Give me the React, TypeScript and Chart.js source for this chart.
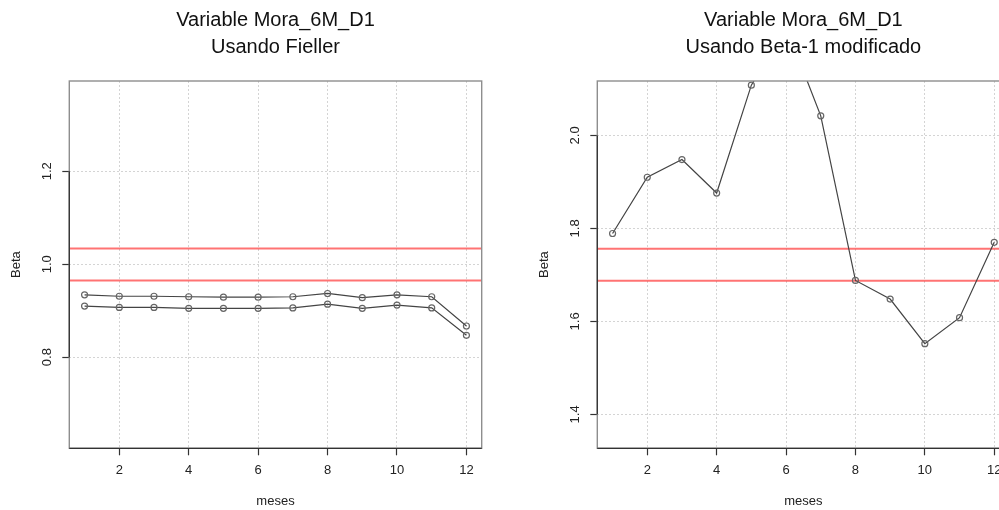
import React, { useEffect, useRef } from "react";
import { Chart, registerables } from "chart.js";

Chart.register(...registerables);

// ---- data ----
const MONTHS = [1, 2, 3, 4, 5, 6, 7, 8, 9, 10, 11, 12];
const FIELLER_UPPER = [0.934, 0.931, 0.931, 0.930, 0.929, 0.929, 0.930, 0.937, 0.928, 0.934, 0.930, 0.867];
const FIELLER_LOWER = [0.910, 0.907, 0.907, 0.905, 0.905, 0.905, 0.906, 0.914, 0.905, 0.912, 0.906, 0.847];
const FIELLER_LIMITS = [1.034, 0.965];
const BETA1_VALUES = [1.789, 1.910, 1.948, 1.876, 2.108, 2.234, 2.042, 1.688, 1.648, 1.552, 1.608, 1.770];
const BETA1_LIMITS = [1.756, 1.6875];

const X_TICKS = [2, 4, 6, 8, 10, 12];
const X_TICK_LABELS = ["2", "4", "6", "8", "10", "12"];
const X_RANGE = [0.56, 12.44];
const LEFT_Y_TICKS = [0.8, 1.0, 1.2];
const LEFT_Y_LABELS = ["0.8", "1.0", "1.2"];
const LEFT_Y_RANGE = [0.604, 1.394];
const RIGHT_Y_TICKS = [1.4, 1.6, 1.8, 2.0];
const RIGHT_Y_LABELS = ["1.4", "1.6", "1.8", "2.0"];
const RIGHT_Y_RANGE = [1.327, 2.117];

const LEFT_TITLE = ["Variable Mora_6M_D1", "Usando Fieller"];
const RIGHT_TITLE = ["Variable Mora_6M_D1", "Usando Beta-1 modificado"];
const X_LABEL = "meses";
const Y_LABEL = "Beta";

const FONT = "'Liberation Sans', Arial, Helvetica, sans-serif";

const boxPlugin = {
  id: "rBox",
  afterDraw(chart: any) {
    const { ctx, chartArea } = chart;
    const xs = chart.scales.x;
    const ys = chart.scales.y;
    const yt: number[] = chart.options.plugins.rBox.yTicks;
    ctx.save();
    ctx.strokeStyle = "#8e8e8e";
    ctx.lineWidth = 1.4;
    ctx.strokeRect(chartArea.left, chartArea.top, chartArea.right - chartArea.left, chartArea.bottom - chartArea.top);
    ctx.strokeStyle = "#333";
    ctx.lineWidth = 1.3;
    ctx.beginPath();
    ctx.moveTo(chartArea.left, chartArea.bottom);
    ctx.lineTo(chartArea.right, chartArea.bottom);
    ctx.moveTo(chartArea.left, ys.getPixelForValue(yt[0]));
    ctx.lineTo(chartArea.left, ys.getPixelForValue(yt[yt.length - 1]));
    ctx.stroke();
    ctx.restore();
  },
};

function seriesDataset(values: number[]) {
  return {
    data: MONTHS.map((m, i) => ({ x: m, y: values[i] })),
    borderColor: "#444",
    borderWidth: 1.2,
    pointRadius: 3,
    pointBorderColor: "#666",
    pointBorderWidth: 1.2,
    pointBackgroundColor: "rgba(0,0,0,0)",
    fill: false,
    tension: 0,
    order: 1,
  };
}

function limitDataset(v: number) {
  return {
    data: [
      { x: X_RANGE[0], y: v },
      { x: X_RANGE[1], y: v },
    ],
    borderColor: "rgba(255,40,40,0.65)",
    borderWidth: 2,
    pointRadius: 0,
    fill: false,
    order: 2,
  };
}

function makeConfig(opts: {
  series: number[][];
  limits: number[];
  yTicks: number[];
  yLabels: string[];
  yRange: number[];
  title: string[];
  yAxisWidth: number;
  yTitlePad: number;
  padRight: number;
}) {
  const grid = {
    color: "#d4d4d4",
    lineWidth: 1,
    drawTicks: true,
    tickLength: 7,
    tickColor: "#333",
    tickWidth: 1.2,
    tickBorderDash: [],
  };
  const border = { display: false, dash: [2, 2] };
  return {
    type: "line",
    data: {
      datasets: [...opts.series.map(seriesDataset), ...opts.limits.map(limitDataset)],
    },
    options: {
      responsive: false,
      animation: false,
      devicePixelRatio: 1,
      layout: { padding: { left: 0, right: opts.padRight, top: 0, bottom: 0 } },
      scales: {
        x: {
          type: "linear",
          min: X_RANGE[0],
          max: X_RANGE[1],
          afterBuildTicks: (s: any) => {
            s.ticks = X_TICKS.map((v) => ({ value: v }));
          },
          afterFit: (s: any) => {
            s.height = 61.7;
          },
          ticks: {
            autoSkip: false,
            maxRotation: 0,
            padding: 7,
            color: "#222",
            font: { family: FONT, size: 13 },
            callback: (v: number) => {
              const i = X_TICKS.indexOf(v);
              return i >= 0 ? X_TICK_LABELS[i] : "";
            },
          },
          grid,
          border,
          title: {
            display: true,
            text: X_LABEL,
            color: "#222",
            font: { family: FONT, size: 13 },
            padding: { top: 0, bottom: 0.5 },
          },
        },
        y: {
          type: "linear",
          min: opts.yRange[0],
          max: opts.yRange[1],
          afterBuildTicks: (s: any) => {
            s.ticks = opts.yTicks.map((v) => ({ value: v }));
          },
          afterFit: (s: any) => {
            s.width = opts.yAxisWidth;
          },
          ticks: {
            autoSkip: false,
            minRotation: 90,
            maxRotation: 90,
            crossAlign: "center",
            padding: 6,
            color: "#222",
            font: { family: FONT, size: 13 },
            callback: (v: number) => {
              const i = opts.yTicks.indexOf(v);
              return i >= 0 ? opts.yLabels[i] : "";
            },
          },
          grid,
          border,
          title: {
            display: true,
            text: Y_LABEL,
            color: "#222",
            font: { family: FONT, size: 13 },
            padding: { top: opts.yTitlePad, bottom: 0 },
          },
        },
      },
      plugins: {
        legend: { display: false },
        tooltip: { enabled: false },
        title: {
          display: true,
          text: opts.title,
          fullSize: false,
          color: "#111",
          font: { family: FONT, size: 20, weight: "normal", lineHeight: 1.36 },
          padding: { top: 6.4, bottom: 20.2 },
        },
        rBox: { yTicks: opts.yTicks },
      },
    },
    plugins: [boxPlugin],
  } as any;
}

function Panel(props: { config: any; left: number; width: number }) {
  const ref = useRef<HTMLCanvasElement | null>(null);
  useEffect(() => {
    if (!ref.current) return;
    const chart = new Chart(ref.current, props.config);
    return () => chart.destroy();
  }, []);
  return (
    <div style={{ position: "absolute", left: props.left, top: 0, width: props.width, height: 510 }}>
      <canvas ref={ref} width={props.width} height={510} style={{ display: "block" }} />
    </div>
  );
}

export default function App() {
  const leftConfig = makeConfig({
    series: [FIELLER_UPPER, FIELLER_LOWER],
    limits: FIELLER_LIMITS,
    yTicks: LEFT_Y_TICKS,
    yLabels: LEFT_Y_LABELS,
    yRange: LEFT_Y_RANGE,
    title: LEFT_TITLE,
    yAxisWidth: 69.3,
    yTitlePad: 8.9,
    padRight: 18.3,
  });
  const rightConfig = makeConfig({
    series: [BETA1_VALUES],
    limits: BETA1_LIMITS,
    yTicks: RIGHT_Y_TICKS,
    yLabels: RIGHT_Y_LABELS,
    yRange: RIGHT_Y_RANGE,
    title: RIGHT_TITLE,
    yAxisWidth: 97.3,
    yTitlePad: 36.9,
    padRight: 18.5,
  });
  return (
    <div
      style={{
        position: "fixed",
        left: 0,
        top: 0,
        width: 999,
        height: 510,
        overflow: "hidden",
        background: "#fff",
      }}
    >
      <Panel config={leftConfig} left={0} width={500} />
      <Panel config={rightConfig} left={500} width={528} />
    </div>
  );
}
